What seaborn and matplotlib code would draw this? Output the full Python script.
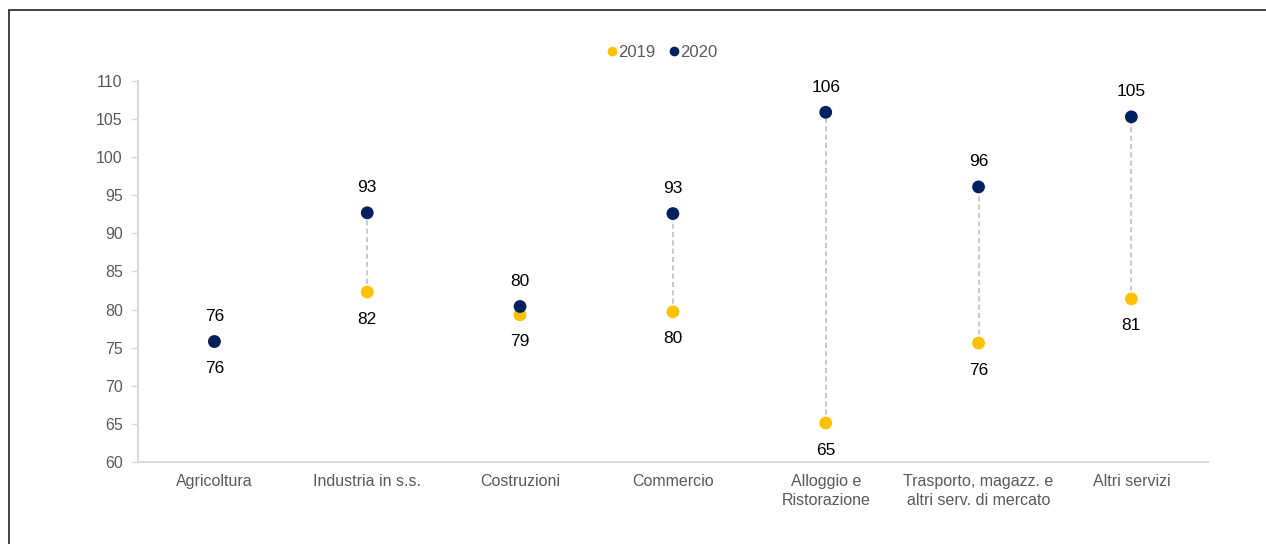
import numpy as np
import pandas as pd
import matplotlib
matplotlib.use('Agg')
import matplotlib.pyplot as plt
import seaborn as sns
from matplotlib.lines import Line2D

# data
SECTORS = ['Agricoltura', 'Industria in s.s.', 'Costruzioni', 'Commercio',
           'Alloggio e\nRistorazione', 'Trasporto, magazz. e\naltri serv. di mercato',
           'Altri servizi']
VAL_2019 = [75.8, 82.3, 79.3, 79.7, 65.1, 75.6, 81.4]
VAL_2020 = [75.8, 92.7, 80.4, 92.6, 105.9, 96.1, 105.3]
Y_TICKS = [60, 65, 70, 75, 80, 85, 90, 95, 100, 105, 110]

COL_2019 = '#FFC000'
COL_2020 = '#002060'
GREY_TXT = '#595959'
GREY_AX = '#D9D9D9'

sns.set_theme(style='white')
plt.rcParams['font.family'] = ['Liberation Sans', 'DejaVu Sans']

df = pd.DataFrame({
    'sector': SECTORS * 2,
    'x': list(range(len(SECTORS))) * 2,
    'value': VAL_2019 + VAL_2020,
    'year': ['2019'] * len(SECTORS) + ['2020'] * len(SECTORS),
})

fig = plt.figure(figsize=(12.66, 5.44), dpi=100)
ax = fig.add_axes([0.109, 0.151, 0.845, 0.700])

# dashed connectors
ax.vlines(range(len(SECTORS)), VAL_2019, VAL_2020, colors='#BFBFBF',
          linestyles=(0, (3, 2)), linewidth=1.2, zorder=1)

sns.scatterplot(data=df, x='x', y='value', hue='year',
                palette={'2019': COL_2019, '2020': COL_2020},
                s=85, edgecolor='none', legend=False, ax=ax, zorder=3)

for i, (a, b) in enumerate(zip(VAL_2019, VAL_2020)):
    lo, hi = (a, b) if a <= b else (b, a)
    ax.annotate(f'{round(lo):.0f}', (i, lo), xytext=(0, -19.5), textcoords='offset points',
                ha='center', va='center', fontsize=12.5, color='black')
    ax.annotate(f'{round(hi):.0f}', (i, hi), xytext=(0, 18), textcoords='offset points',
                ha='center', va='center', fontsize=12.5, color='black')

ax.set_xlim(-0.5, len(SECTORS) - 0.5)
ax.set_ylim(60, 110)
ax.set_yticks(Y_TICKS)
ax.set_xticks(range(len(SECTORS)))
ax.set_xticklabels(SECTORS, fontsize=11.5, color=GREY_TXT, linespacing=1.3)
ax.tick_params(axis='y', labelsize=11.5, labelcolor=GREY_TXT, length=5,
               color=GREY_AX, width=1, left=True, pad=6)
ax.tick_params(axis='x', length=0, pad=9)
ax.set_xlabel('')
ax.set_ylabel('')
for side in ['top', 'right']:
    ax.spines[side].set_visible(False)
for side in ['left', 'bottom']:
    ax.spines[side].set_color(GREY_AX)
    ax.spines[side].set_linewidth(1.5)

handles = [Line2D([], [], marker='o', linestyle='none', markersize=7,
                  markerfacecolor=c, markeredgecolor='none') for c in (COL_2019, COL_2020)]
leg = fig.legend(handles, ['2019', '2020'], loc='center', bbox_to_anchor=(0.521, 0.904),
                 ncol=2, frameon=False, fontsize=12, handletextpad=-0.2,
                 columnspacing=0.5, handlelength=1.2)
for t in leg.get_texts():
    t.set_color(GREY_TXT)

# outer frame (left and top edges only)
fig.add_artist(Line2D([9 / 1266, 9 / 1266], [0, 1 - 10 / 544], color='#333333', linewidth=1.3))
fig.add_artist(Line2D([9 / 1266, 1], [1 - 10 / 544, 1 - 10 / 544], color='#333333', linewidth=1.3))

fig.savefig('out.png', dpi=100)
